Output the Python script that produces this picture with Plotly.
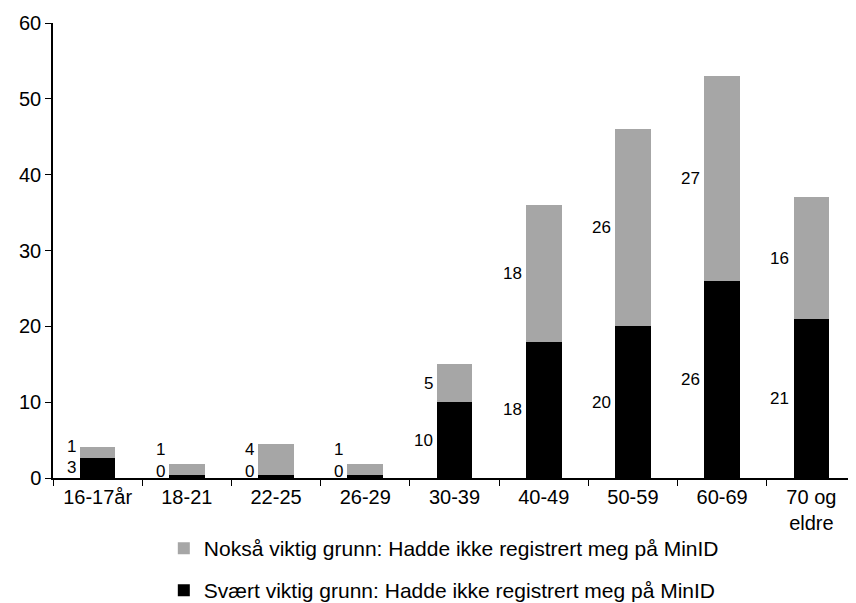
import plotly.graph_objects as go

categories = ["16-17år", "18-21", "22-25", "26-29", "30-39", "40-49", "50-59", "60-69", "70 og<br>eldre"]
svaert = [2.64, 0.4, 0.4, 0.4, 10, 18, 20, 26, 21]
noksaa = [1.49, 1.4, 4.08, 1.4, 5, 18, 26, 27, 16]
name_svaert = "Svært viktig grunn: Hadde ikke registrert meg på MinID"
name_noksaa = "Nokså viktig grunn: Hadde ikke registrert meg på MinID"

FONT = "Liberation Sans, Arial, sans-serif"
TICK_FS = 20
LABEL_FS = 17
LEG_FS = 21
H = 603

fig = go.Figure()
fig.add_trace(go.Bar(x=categories, y=svaert, name=name_svaert, marker_color="#000000",
                     marker_line_width=0, legend="legend2", hoverinfo="y"))
fig.add_trace(go.Bar(x=categories, y=noksaa, name=name_noksaa, marker_color="#a6a6a6",
                     marker_line_width=0, legend="legend", hoverinfo="y"))

annotations = []
for c, b, g in zip(categories, svaert, noksaa):
    yb = max(b / 2, 0.9)
    yg = max(b + g / 2, yb + 2.8)
    for val, yy in ((b, yb), (g, yg)):
        annotations.append(dict(x=c, y=yy, text=f"{val:.0f}", showarrow=False, xanchor="right",
                                yanchor="middle", xshift=-20,
                                font=dict(family=FONT, size=LABEL_FS, color="#000")))

leg_common = dict(orientation="v", x=0.138, xanchor="left", yanchor="top", yref="container",
                  font=dict(family=FONT, size=LEG_FS, color="#000"), bgcolor="rgba(0,0,0,0)")

fig.update_layout(
    barmode="stack",
    bargap=0.6,
    width=848, height=H,
    margin=dict(l=45, r=0, t=15, b=133, autoexpand=False),
    paper_bgcolor="white", plot_bgcolor="white",
    font=dict(family=FONT, size=TICK_FS, color="#000"),
    annotations=annotations,
    showlegend=True,
    legend=dict(y=1 - 520 / H, **leg_common),
    legend2=dict(y=1 - 562 / H, **leg_common),
    xaxis=dict(showline=True, linecolor="#000", linewidth=1.5, ticks="outside", ticklen=6,
               tickcolor="#000", tickson="boundaries", showgrid=False, zeroline=False,
               automargin=False,
               tickfont=dict(family=FONT, size=TICK_FS, color="#000")),
    yaxis=dict(range=[0, 60], dtick=10, showline=True, linecolor="#000", linewidth=1.5,
               ticks="outside", ticklen=6, tickcolor="#000", showgrid=False, zeroline=False,
               automargin=False,
               tickfont=dict(family=FONT, size=TICK_FS, color="#000")),
)

fig.write_html("out.html")
